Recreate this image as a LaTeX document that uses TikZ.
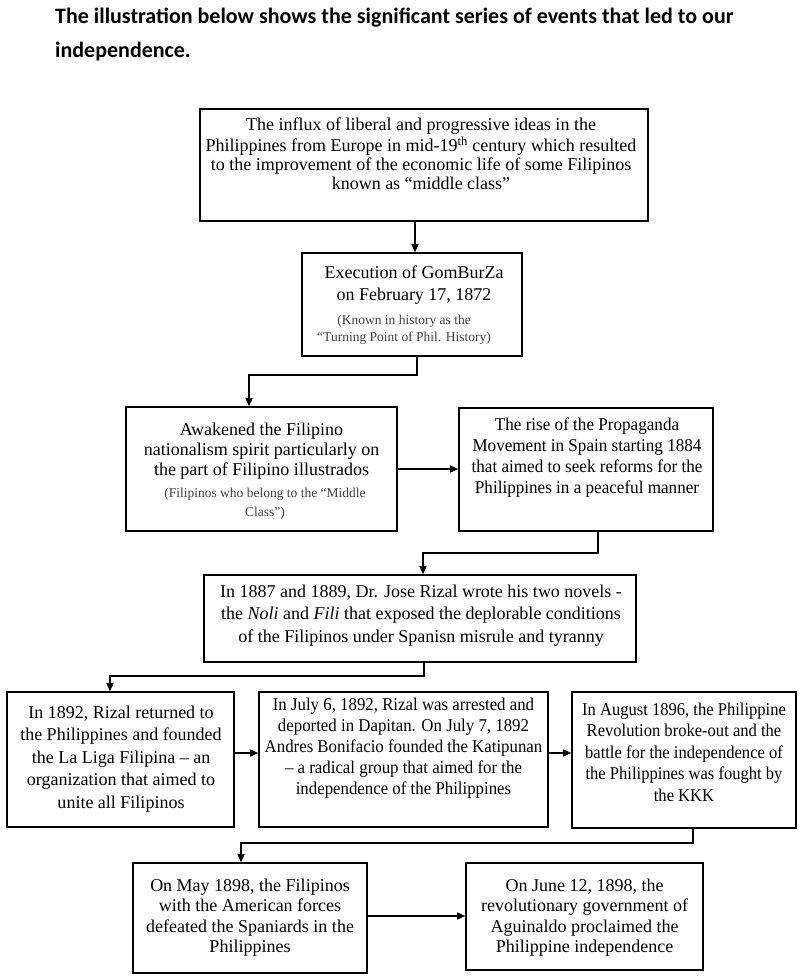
\documentclass[tikz,border=0pt]{standalone}
\usepackage{fontspec}
\setmainfont{Liberation Serif}
\newfontfamily\headfont{Carlito}
\newfontfamily\serifA{Liberation Serif}[FakeStretch=0.95]
\newfontfamily\serifB{Liberation Serif}[FakeStretch=0.935]
\newfontfamily\serifC{Liberation Serif}[FakeStretch=0.92]
\usetikzlibrary{arrows.meta,calc}
\begin{document}
\begin{tikzpicture}[x=1pt,y=-1pt,
  box/.style={draw=black, line width=1.6pt, inner sep=0pt},
  txt/.style={inner sep=0pt, align=center, anchor=north},
  subtxt/.style={txt, text=black!75, font=\fontsize{13.5}{17}\selectfont},
  head/.style={anchor=base west, inner sep=0pt, font=\headfont\bfseries\fontsize{22}{26}\selectfont},
  arr/.style={line width=1.4pt, -{Triangle[length=8pt,width=7pt]}}]
\useasboundingbox (0,0) rectangle (802,979);

% heading
\node[head] (h1) at (55,24) {The illustration below shows the significant series of events that led to our};
\node[head] (h2) at (55,58) {independence.};

% boxes
\node[box, minimum width=448pt, minimum height=112pt] (b1) at (424,165) {};
\node[box, minimum width=220pt, minimum height=103pt] (b2) at (412,304.5) {};
\node[box, minimum width=271pt, minimum height=124pt] (b3) at (261.5,469) {};
\node[box, minimum width=254pt, minimum height=123pt] (b4) at (586,469.5) {};
\node[box, minimum width=432pt, minimum height=87pt] (b5) at (420,618.5) {};
\node[box, minimum width=227pt, minimum height=135pt] (b6) at (120.5,759.5) {};
\node[box, minimum width=289pt, minimum height=135pt] (b7) at (403.5,759.5) {};
\node[box, minimum width=224pt, minimum height=136pt] (b8) at (684,760) {};
\node[box, minimum width=234pt, minimum height=110pt] (b9) at (250,918) {};
\node[box, minimum width=237pt, minimum height=107pt] (b10) at (584.5,916.5) {};

% texts
\node[txt, font=\fontsize{18}{19}\selectfont] (t1) at (421,116.7)
  {\strut The influx of liberal and progressive ideas in the\\
   Philippines from Europe in mid-19\textsuperscript{th} century which resulted\\
   to the improvement of the economic life of some Filipinos\\
   known as “middle class”};
\node[txt, font=\fontsize{18}{22}\selectfont] (t2) at (414,262.6)
  {\strut Execution of GomBurZa\\ on February 17, 1872};
\node[subtxt] (t2s) at (404,312.1)
  {\strut (Known in history as the\\ “Turning Point of Phil. History)};
\node[txt, font=\fontsize{18}{20}\selectfont] (t3) at (261.5,421)
  {\strut Awakened the Filipino\\ nationalism spirit particularly on\\ the part of Filipino illustrados};
\node[subtxt, font=\fontsize{13.5}{19}\selectfont] (t3s) at (265,483.7)
  {\strut (Filipinos who belong to the “Middle\\ Class”)};
\node[txt, font=\serifA\fontsize{18}{21}\selectfont] (t4) at (587,415.3)
  {\strut The rise of the Propaganda\\ Movement in Spain starting 1884\\ that aimed to seek reforms for the\\ Philippines in a peaceful manner};
\node[txt, font=\fontsize{18}{22.5}\selectfont] (t5) at (421,581.25)
  {\strut In 1887 and 1889, Dr. Jose Rizal wrote his two novels -\\
   the \textit{Noli} and \textit{Fili} that exposed the deplorable conditions\\
   of the Filipinos under Spanisn misrule and tyranny};
\node[txt, font=\fontsize{18}{22.5}\selectfont] (t6) at (121,702.25)
  {\strut In 1892, Rizal returned to\\ the Philippines and founded\\ the La Liga Filipina – an\\ organization that aimed to\\ unite all Filipinos};
\node[txt, font=\serifB\fontsize{18}{21}\selectfont] (t7) at (403.5,695.3)
  {\strut In July 6, 1892, Rizal was arrested and\\ deported in Dapitan. On July 7, 1892\\ Andres Bonifacio founded the Katipunan\\ – a radical group that aimed for the\\ independence of the Philippines};
\node[txt, font=\serifC\fontsize{18}{21.5}\selectfont] (t8) at (684,700)
  {\strut In August 1896, the Philippine\\ Revolution broke-out and the\\ battle for the independence of\\ the Philippines was fought by\\ the KKK};
\node[txt, font=\fontsize{18}{20.5}\selectfont] (t9) at (250,876.6)
  {\strut On May 1898, the Filipinos\\ with the American forces\\ defeated the Spaniards in the\\ Philippines};
\node[txt, font=\fontsize{18}{20.5}\selectfont] (t10) at (584.5,876.6)
  {\strut On June 12, 1898, the\\ revolutionary government of\\ Aguinaldo proclaimed the\\ Philippine independence};

% connectors
\coordinate (c23) at (249,375);
\coordinate (c45) at (423,553);
\coordinate (c56) at (110,676);
\coordinate (c89) at (241,843);
\coordinate (r2) at (0,753);
\coordinate (r3) at (0,916);
\draw[arr] ([xshift=3pt]b2.north |- b1.south) -- ([xshift=3pt]b2.north);
\draw[arr] ([xshift=5pt]b2.south) |- (c23) -- (c23 |- b3.north);
\draw[arr] (b3.east) -- (b4.west |- b3.east);
\draw[arr] ([xshift=12pt]b4.south) |- (c45) -- (c45 |- b5.north);
\draw[arr] ([xshift=4pt]b5.south) |- (c56) -- (c56 |- b6.north);
\draw[arr] (b6.east |- r2) -- (b7.west |- r2);
\draw[arr] (b7.east |- r2) -- (b8.west |- r2);
\draw[arr] ([xshift=9pt]b8.south) |- (c89) -- (c89 |- b9.north);
\draw[arr] (b9.east |- r3) -- (b10.west |- r3);
\end{tikzpicture}
\end{document}
